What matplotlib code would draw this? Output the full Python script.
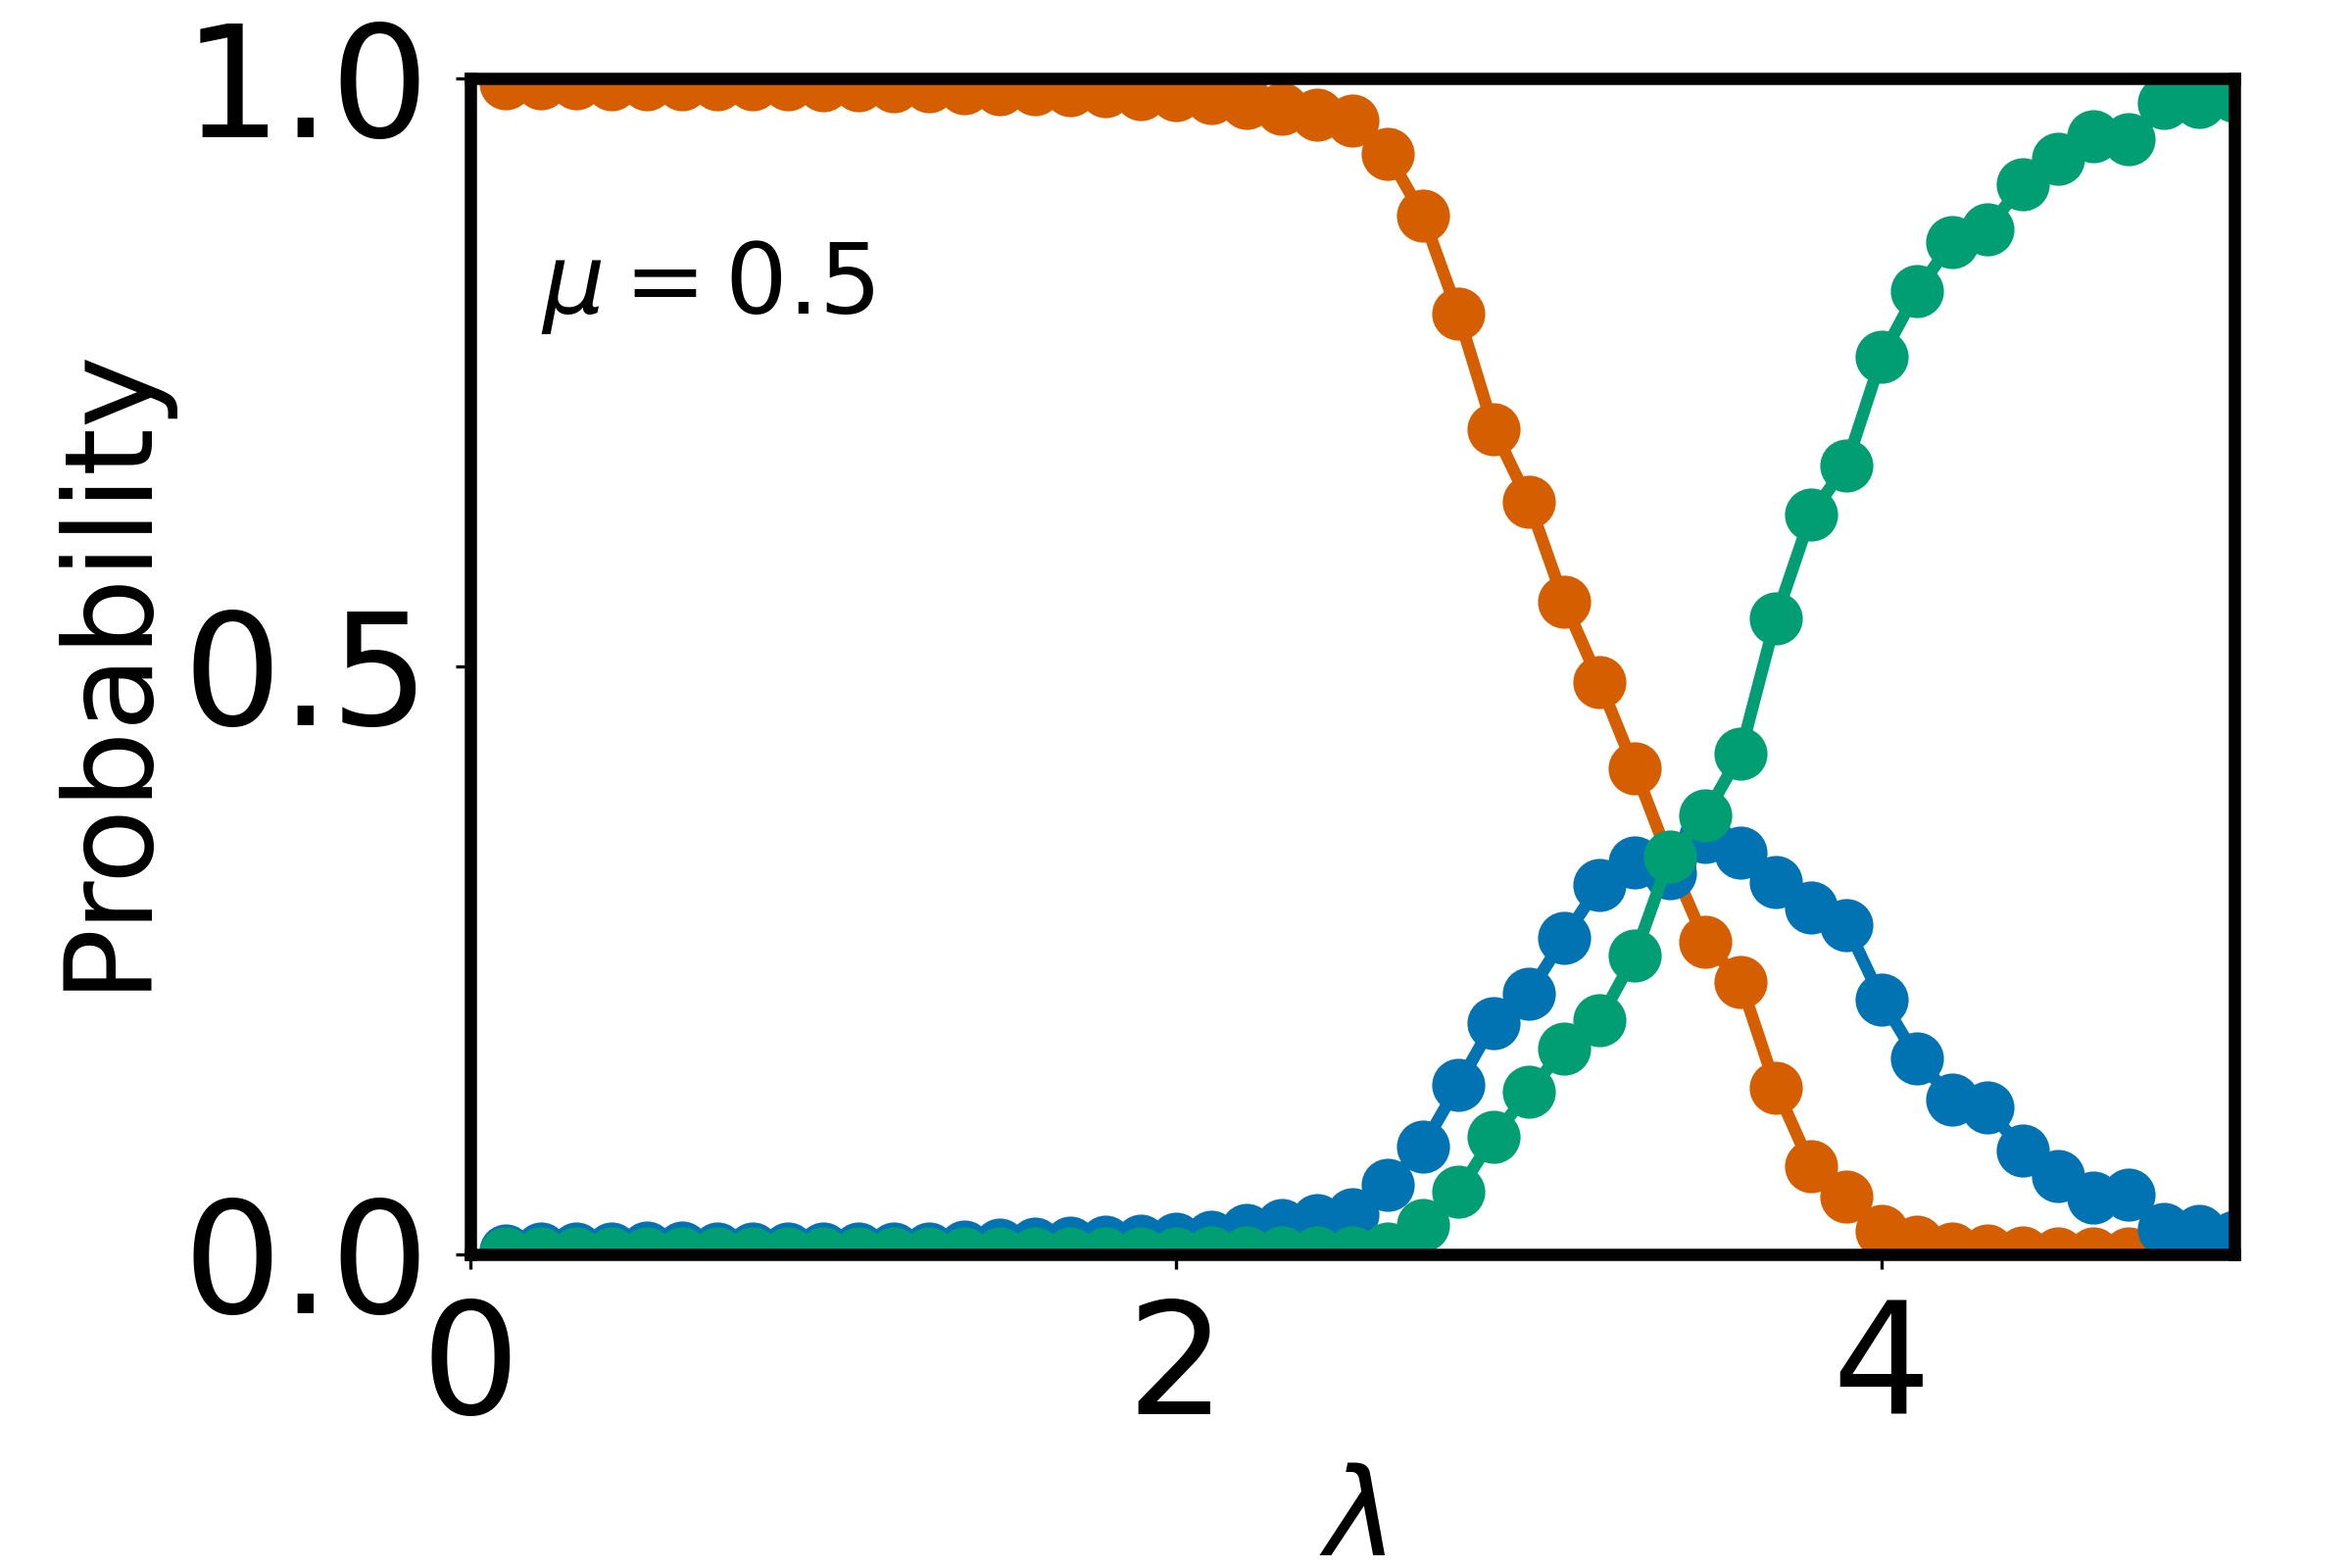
import matplotlib
matplotlib.use("Agg")
import matplotlib.pyplot as plt

lam = [0.1, 0.2, 0.3, 0.4, 0.5, 0.6, 0.7, 0.8, 0.9, 1.0,
       1.1, 1.2, 1.3, 1.4, 1.5, 1.6, 1.7, 1.8, 1.9, 2.0,
       2.1, 2.2, 2.3, 2.4, 2.5, 2.6, 2.7, 2.8, 2.9, 3.0,
       3.1, 3.2, 3.3, 3.4, 3.5, 3.6, 3.7, 3.8, 3.9, 4.0,
       4.1, 4.2, 4.3, 4.4, 4.5, 4.6, 4.7, 4.8, 4.9, 5.0]

p_orange = [0.996, 0.996, 0.996, 0.995, 0.995, 0.995, 0.995, 0.995, 0.995, 0.994,
            0.994, 0.993, 0.993, 0.992, 0.991, 0.991, 0.990, 0.989, 0.987, 0.986,
            0.983, 0.979, 0.974, 0.969, 0.964, 0.936, 0.883, 0.800, 0.702, 0.640,
            0.555, 0.487, 0.413, 0.335, 0.266, 0.232, 0.142, 0.075, 0.049, 0.020,
            0.011, 0.005, 0.003, 0.002, 0.001, 0.001, 0.001, 0.000, 0.000, 0.000]

p_blue = [0.003, 0.005, 0.005, 0.005, 0.006, 0.006, 0.005, 0.005, 0.005, 0.005,
          0.005, 0.005, 0.005, 0.007, 0.008, 0.009, 0.010, 0.011, 0.012, 0.013,
          0.015, 0.021, 0.025, 0.029, 0.034, 0.059, 0.092, 0.144, 0.197, 0.222,
          0.269, 0.314, 0.333, 0.324, 0.355, 0.342, 0.317, 0.295, 0.280, 0.217,
          0.167, 0.132, 0.125, 0.088, 0.067, 0.048, 0.051, 0.022, 0.020, 0.015]

p_green = [0.001, 0.001, 0.001, 0.001, 0.001, 0.001, 0.001, 0.001, 0.001, 0.001,
           0.001, 0.001, 0.001, 0.001, 0.001, 0.001, 0.001, 0.001, 0.001, 0.001,
           0.002, 0.002, 0.002, 0.002, 0.002, 0.005, 0.025, 0.053, 0.100, 0.138,
           0.175, 0.199, 0.254, 0.338, 0.373, 0.426, 0.541, 0.629, 0.671, 0.763,
           0.819, 0.861, 0.872, 0.910, 0.932, 0.951, 0.948, 0.979, 0.980, 0.985]

x_ticks = [0, 2, 4]
y_ticks = [0.0, 0.5, 1.0]
y_ticklabels = ["0.0", "0.5", "1.0"]

fig = plt.figure(figsize=(8, 16 / 3), dpi=300)
ax = fig.add_axes([0.2, 0.2, 0.75, 0.75])

for vals, col in [(p_orange, "#D55E00"), (p_blue, "#0173B2"), (p_green, "#029E73")]:
    ax.plot(lam, vals, "-o", color=col, lw=3, markersize=12)

ax.set_xlim(0, 5)
ax.set_ylim(0, 1)
ax.set_xticks(x_ticks)
ax.set_yticks(y_ticks)
ax.set_yticklabels(y_ticklabels)
ax.tick_params(labelsize=38, pad=6.5)
for s in ax.spines.values():
    s.set_linewidth(3)
    s.set_zorder(5)

ax.set_xlabel(r"$\lambda$", fontsize=30)
ax.set_ylabel("Probability", fontsize=30)
ax.text(0.04, 0.80, r"$\mu = 0.5$", transform=ax.transAxes, fontsize=24,
        va="baseline", ha="left")

fig.savefig("out.png", dpi=300)
